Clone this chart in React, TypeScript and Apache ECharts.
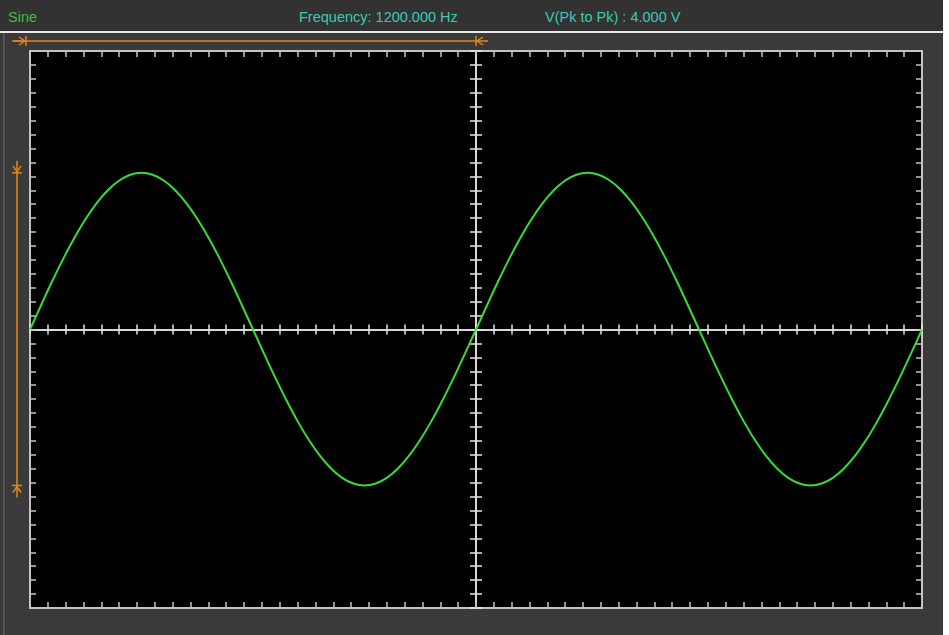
import React, { useEffect, useRef } from "react";
import * as echarts from "echarts";

// Time positions in minor divisions (50 minor divisions = 10 major across the screen), sampled every 0.625
const timeMinorDiv: number[] = [
  0, 0.625, 1.25, 1.875, 2.5, 3.125, 3.75, 4.375, 5, 5.625, 6.25, 6.875, 7.5, 8.125, 8.75, 9.375,
  10, 10.625, 11.25, 11.875, 12.5, 13.125, 13.75, 14.375, 15, 15.625, 16.25, 16.875, 17.5, 18.125,
  18.75, 19.375, 20, 20.625, 21.25, 21.875, 22.5, 23.125, 23.75, 24.375,
  25, 25.625, 26.25, 26.875, 27.5, 28.125, 28.75, 29.375, 30, 30.625, 31.25, 31.875, 32.5, 33.125,
  33.75, 34.375, 35, 35.625, 36.25, 36.875, 37.5, 38.125, 38.75, 39.375, 40, 40.625, 41.25, 41.875,
  42.5, 43.125, 43.75, 44.375, 45, 45.625, 46.25, 46.875, 47.5, 48.125, 48.75, 49.375, 50,
];
// Trace level in minor divisions (5 minor divisions = 1 major)
const traceMinorDiv: number[] = [
  0, 1.76, 3.48, 5.11, 6.61, 7.95, 9.1, 10.02, 10.7, 11.11, 11.25, 11.11, 10.7, 10.02, 9.1, 7.95,
  6.61, 5.11, 3.48, 1.76, 0, -1.75, -3.46, -5.08, -6.58, -7.92, -9.06, -9.98, -10.65, -11.06,
  -11.2, -11.06, -10.65, -9.98, -9.06, -7.92, -6.58, -5.08, -3.46, -1.75,
  0, 1.76, 3.48, 5.11, 6.61, 7.95, 9.1, 10.02, 10.7, 11.11, 11.25, 11.11, 10.7, 10.02,
  9.1, 7.95, 6.61, 5.11, 3.48, 1.76, 0, -1.75, -3.46, -5.08, -6.58, -7.92, -9.06, -9.98,
  -10.65, -11.06, -11.2, -11.06, -10.65, -9.98, -9.06, -7.92, -6.58, -5.08, -3.46, -1.75, 0,
];
const headerTexts: string[] = ["Sine", "Frequency: 1200.000 Hz", "V(Pk to Pk) : 4.000 V"];
const cursorPeriod: number[] = [0, 25]; // horizontal cursors (minor divisions)
const cursorLevels: number[] = [11.25, -11.2]; // vertical cursors (minor divisions)

const X_MAX = 50;
const Y_MIN = -20;
const Y_MAX = 20;

export default function App() {
  const ref = useRef<HTMLDivElement>(null);
  useEffect(() => {
    if (!ref.current) return;
    const chart = echarts.init(ref.current, undefined, { renderer: "svg" });
    const L = 30, T = 51, W = 892, H = 557;
    const border = "#c4c4c4";
    const center = "#e6e6e6";
    const tickBase = (color: string, len: number) => ({
      show: true, inside: true, length: len, interval: 0,
      lineStyle: { color, width: 1.5 },
    });
    const hiddenX = (gi: number, max: number) => ({ gridIndex: gi, type: "value", min: 0, max, show: false });
    const hiddenY = (gi: number, min: number, max: number) => ({ gridIndex: gi, type: "value", min, max, show: false });
    const visX = (gi: number, pos: string, color: string, w: number, len: number) => ({
      gridIndex: gi, type: "value", position: pos, min: 0, max: X_MAX, interval: 1,
      axisLine: { show: true, onZero: false, lineStyle: { color, width: w } },
      axisTick: tickBase(color, len), axisLabel: { show: false }, splitLine: { show: false },
    });
    const visY = (gi: number, pos: string, color: string, w: number, len: number) => ({
      gridIndex: gi, type: "value", position: pos, min: Y_MIN, max: Y_MAX, interval: 1,
      axisLine: { show: true, onZero: false, lineStyle: { color, width: w } },
      axisTick: tickBase(color, len), axisLabel: { show: false }, splitLine: { show: false },
    });

    const option: any = {
      animation: false,
      backgroundColor: "#ffffff",
      grid: [
        { left: L, top: T, width: W, height: H, show: true, backgroundColor: "#000000", borderWidth: 0 },
        { left: L, top: T, width: W, height: H / 2 },
        { left: L, top: T + H / 2, width: W, height: H / 2 },
        { left: L, top: T, width: W / 2, height: H },
        { left: L + W / 2, top: T, width: W / 2, height: H },
      ],
      xAxis: [
        visX(0, "bottom", border, 2, 6),
        visX(0, "top", border, 2, 6),
        visX(1, "bottom", center, 1.5, 5),
        visX(2, "top", center, 1.5, 5),
        hiddenX(3, 25),
        hiddenX(4, 25),
      ],
      yAxis: [
        visY(0, "left", border, 2, 6),
        visY(0, "right", border, 2, 6),
        hiddenY(1, 0, 20),
        hiddenY(2, -20, 0),
        visY(3, "right", center, 1.5, 6),
        visY(4, "left", center, 1.5, 6),
      ],
      series: [
        {
          type: "line",
          xAxisIndex: 0,
          yAxisIndex: 0,
          data: timeMinorDiv.map((t, i) => [t, traceMinorDiv[i]]),
          smooth: 0.3,
          showSymbol: false,
          lineStyle: { color: "#38dc38", width: 2 },
          z: 10,
        },
      ],
    };
    chart.setOption(option);

    const px = (x: number, y: number) => chart.convertToPixel({ xAxisIndex: 0, yAxisIndex: 0 } as any, [x, y]) as number[];
    const xa = px(cursorPeriod[0], 0)[0];
    const xb = px(cursorPeriod[1], 0)[0];
    const ya = px(0, cursorLevels[0])[1];
    const yb = px(0, cursorLevels[1])[1];
    const orange = "#e2861c";
    const ol = { stroke: orange, lineWidth: 1.5, fill: null };
    const hy = 41;
    const vx = 17;
    const font = "14.5px 'Liberation Sans', Arial, sans-serif";

    chart.setOption({
      graphic: [
        { type: "rect", z: -10, shape: { x: 0, y: 0, width: 943, height: 635 }, style: { fill: "#3a3a3a" } },
        { type: "rect", z: -9, shape: { x: 0, y: 0, width: 943, height: 31 }, style: { fill: "#323232" } },
        { type: "rect", z: -8, shape: { x: 0, y: 31, width: 943, height: 2 }, style: { fill: "#e8e8e8" } },
        { type: "rect", z: -8, shape: { x: 3, y: 33, width: 1.5, height: 602 }, style: { fill: "#5a5a5a" } },
        {
          type: "text", z: 50, x: 8, y: 17,
          style: { text: headerTexts[0], fill: "#3fbf3f", font, verticalAlign: "middle" },
        },
        {
          type: "text", z: 50, x: 299, y: 17,
          style: { text: headerTexts[1], fill: "#3ccab4", font, verticalAlign: "middle" },
        },
        {
          type: "text", z: 50, x: 545, y: 17,
          style: { text: headerTexts[2], fill: "#3ccab4", font, verticalAlign: "middle" },
        },
        // horizontal cursor line
        { type: "line", z: 50, shape: { x1: 12, y1: hy, x2: xb, y2: hy }, style: ol },
        { type: "line", z: 50, shape: { x1: xa - 4, y1: hy - 5, x2: xa - 4, y2: hy + 5 }, style: ol },
        { type: "polyline", z: 50, shape: { points: [[xa - 11, hy - 4], [xa - 5, hy], [xa - 11, hy + 4]] }, style: ol },
        { type: "line", z: 50, shape: { x1: xa - 16, y1: hy, x2: xa - 5, y2: hy }, style: ol },
        { type: "line", z: 50, shape: { x1: xb, y1: hy - 5, x2: xb, y2: hy + 5 }, style: ol },
        { type: "polyline", z: 50, shape: { points: [[xb + 7, hy - 4], [xb + 1, hy], [xb + 7, hy + 4]] }, style: ol },
        { type: "line", z: 50, shape: { x1: xb + 1, y1: hy, x2: xb + 12, y2: hy }, style: ol },
        // vertical cursor line
        { type: "line", z: 50, shape: { x1: vx, y1: ya - 12, x2: vx, y2: yb + 12 }, style: ol },
        { type: "line", z: 50, shape: { x1: vx - 5, y1: ya, x2: vx + 5, y2: ya }, style: ol },
        { type: "polyline", z: 50, shape: { points: [[vx - 4, ya - 7], [vx, ya - 1], [vx + 4, ya - 7]] }, style: ol },
        { type: "line", z: 50, shape: { x1: vx - 5, y1: yb, x2: vx + 5, y2: yb }, style: ol },
        { type: "polyline", z: 50, shape: { points: [[vx - 4, yb + 7], [vx, yb + 1], [vx + 4, yb + 7]] }, style: ol },
      ],
    });

    return () => chart.dispose();
  }, []);
  return <div ref={ref} style={{ position: "fixed", left: 0, top: 0, width: 949, height: 635 }} />;
}
